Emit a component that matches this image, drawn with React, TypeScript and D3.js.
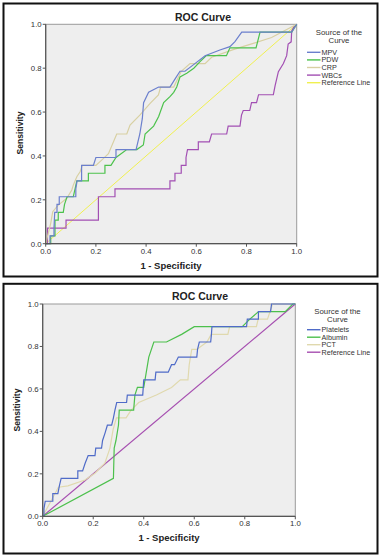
import React from "react";
import * as d3 from "d3";

// ---------- data (1 - specificity, sensitivity) ----------
const ticks = [0, 0.2, 0.4, 0.6, 0.8, 1.0];
const tickLabels = ["0.0", "0.2", "0.4", "0.6", "0.8", "1.0"];

const topSeries = ["MPV", "PDW", "CRP", "WBCs", "Reference Line"];
const bottomSeries = ["Platelets", "Albumin", "PCT", "Reference Line"];

const mpv: [number, number][] = [[0,0],[0.017,0],[0.017,0.036],[0.033,0.036],[0.033,0.071],[0.036,0.143],[0.045,0.143],[0.045,0.179],[0.054,0.179],[0.054,0.214],[0.12,0.214],[0.12,0.25],[0.125,0.286],[0.143,0.286],[0.143,0.357],[0.19,0.357],[0.2,0.393],[0.28,0.393],[0.28,0.429],[0.36,0.429],[0.375,0.5],[0.385,0.571],[0.39,0.643],[0.41,0.69],[0.45,0.714],[0.495,0.714],[0.515,0.75],[0.535,0.786],[0.555,0.786],[0.588,0.815],[0.635,0.857],[0.694,0.883],[0.734,0.898],[0.754,0.921],[0.781,0.964],[0.98,0.964],[1,1]];
const pdw: [number, number][] = [[0,0],[0.02,0],[0.02,0.036],[0.037,0.036],[0.037,0.107],[0.05,0.107],[0.05,0.143],[0.07,0.143],[0.075,0.179],[0.085,0.214],[0.11,0.214],[0.117,0.25],[0.124,0.286],[0.17,0.286],[0.17,0.321],[0.236,0.321],[0.236,0.357],[0.26,0.357],[0.28,0.393],[0.323,0.429],[0.363,0.429],[0.389,0.45],[0.396,0.5],[0.43,0.536],[0.45,0.58],[0.47,0.643],[0.495,0.67],[0.51,0.69],[0.522,0.714],[0.535,0.76],[0.562,0.777],[0.59,0.8],[0.615,0.83],[0.64,0.857],[0.72,0.857],[0.734,0.893],[0.838,0.893],[0.854,0.964],[0.98,0.964],[1,1]];
const crp: [number, number][] = [[0,0],[0.02,0.093],[0.028,0.146],[0.05,0.176],[0.084,0.207],[0.104,0.245],[0.11,0.267],[0.124,0.305],[0.137,0.328],[0.146,0.357],[0.2,0.357],[0.223,0.381],[0.25,0.41],[0.283,0.5],[0.323,0.5],[0.336,0.541],[0.376,0.587],[0.416,0.64],[0.449,0.678],[0.458,0.714],[0.51,0.714],[0.54,0.786],[0.575,0.821],[0.635,0.821],[0.661,0.85],[0.75,0.886],[0.83,0.914],[0.9,0.94],[1,1]];
const wbcs: [number, number][] = [[0,0],[0.007,0],[0.007,0.071],[0.081,0.071],[0.081,0.107],[0.21,0.107],[0.21,0.214],[0.276,0.214],[0.276,0.25],[0.495,0.25],[0.495,0.286],[0.515,0.286],[0.515,0.321],[0.54,0.321],[0.54,0.357],[0.559,0.357],[0.559,0.393],[0.565,0.429],[0.608,0.429],[0.608,0.464],[0.652,0.464],[0.661,0.5],[0.721,0.5],[0.727,0.536],[0.774,0.536],[0.78,0.586],[0.787,0.607],[0.813,0.607],[0.82,0.643],[0.84,0.643],[0.848,0.679],[0.907,0.679],[0.914,0.72],[0.927,0.784],[0.947,0.821],[0.96,0.857],[0.966,0.91],[0.978,0.92],[0.98,0.97],[0.99,0.99],[1,1]];
const refLine: [number, number][] = [[0,0],[1,1]];

const platelets: [number, number][] = [[0,0],[0.005,0],[0.005,0.036],[0.01,0.071],[0.04,0.071],[0.04,0.107],[0.06,0.107],[0.066,0.143],[0.073,0.179],[0.139,0.179],[0.139,0.214],[0.158,0.214],[0.168,0.25],[0.18,0.286],[0.207,0.286],[0.21,0.321],[0.233,0.321],[0.237,0.357],[0.247,0.393],[0.256,0.429],[0.273,0.429],[0.28,0.464],[0.286,0.5],[0.293,0.536],[0.332,0.536],[0.335,0.571],[0.396,0.571],[0.398,0.607],[0.4,0.643],[0.445,0.643],[0.448,0.679],[0.497,0.679],[0.51,0.714],[0.522,0.714],[0.537,0.75],[0.61,0.75],[0.613,0.786],[0.62,0.821],[0.665,0.821],[0.668,0.857],[0.67,0.893],[0.807,0.893],[0.81,0.929],[0.854,0.929],[0.854,0.964],[0.902,0.964],[0.906,1],[1,1]];
const albumin: [number, number][] = [[0,0],[0.28,0.179],[0.283,0.321],[0.29,0.357],[0.3,0.43],[0.303,0.5],[0.36,0.5],[0.365,0.571],[0.375,0.607],[0.4,0.607],[0.405,0.643],[0.42,0.75],[0.44,0.821],[0.49,0.821],[0.55,0.857],[0.6,0.893],[0.79,0.893],[0.82,0.929],[0.855,0.964],[0.96,0.964],[0.99,1],[1,1]];
const pct: [number, number][] = [[0,0],[0.042,0.092],[0.062,0.137],[0.1,0.143],[0.167,0.171],[0.207,0.203],[0.246,0.25],[0.266,0.32],[0.279,0.41],[0.292,0.464],[0.33,0.464],[0.35,0.5],[0.38,0.536],[0.45,0.571],[0.51,0.607],[0.545,0.643],[0.575,0.643],[0.58,0.714],[0.59,0.786],[0.61,0.786],[0.65,0.821],[0.667,0.857],[0.733,0.857],[0.74,0.893],[0.846,0.893],[0.853,0.929],[0.89,0.929],[0.9,0.964],[0.91,1],[1,1]];

const FONT = "'Liberation Sans', Arial, Helvetica, sans-serif";

type Panel = {
  box: [number, number, number, number];
  plot: { left: number; right: number; top: number; bottom: number };
  titleX: number; titleY: number;
  xTitleX: number; xTitleY: number;
  yTitleX: number; yTitleY: number;
  legendX: number; legendTitleY: number; legendY0: number; legendStep: number;
  names: string[];
  data: [number, number][][];
  colors: string[];
  widths: number[];
};

const panels: Panel[] = [
  {
    box: [3.5, 3.5, 374, 273],
    plot: { left: 45.7, right: 296.7, top: 24.3, bottom: 243.7 },
    titleX: 203, titleY: 20.5, xTitleX: 171, xTitleY: 269, yTitleX: 22.5, yTitleY: 133,
    legendX: 339, legendTitleY: 34.5, legendY0: 52.3, legendStep: 7.6,
    names: topSeries,
    data: [mpv, pdw, crp, wbcs, refLine],
    colors: ["#6b7fcd", "#4cc24c", "#d8d0a2", "#a24fb3", "#f0f050"],
    widths: [1.2, 1.2, 1.2, 1.2, 1],
  },
  {
    box: [3.5, 283.8, 374, 269.7],
    plot: { left: 42.7, right: 295.3, top: 304, bottom: 516.3 },
    titleX: 200, titleY: 299.5, xTitleX: 169, xTitleY: 541, yTitleX: 19.5, yTitleY: 410,
    legendX: 337.5, legendTitleY: 313.5, legendY0: 329.7, legendStep: 7.5,
    names: bottomSeries,
    data: [platelets, albumin, pct, refLine],
    colors: ["#4f6bc8", "#4cc04c", "#e0d9ae", "#a64fb0"],
    widths: [1.2, 1.2, 1.2, 1.2],
  },
];

function ChartPanel({ p }: { p: Panel }) {
  const x = d3.scaleLinear().domain([0, 1]).range([p.plot.left, p.plot.right]);
  const y = d3.scaleLinear().domain([0, 1]).range([p.plot.bottom, p.plot.top]);
  const line = d3.line<[number, number]>().x((d) => x(d[0])).y((d) => y(d[1]));
  const [bx, by, bw, bh] = p.box;
  return (
    <g>
      <rect x={bx} y={by} width={bw} height={bh} fill="#fff" stroke="#111" strokeWidth={2} />
      <rect x={p.plot.left} y={p.plot.top} width={p.plot.right - p.plot.left} height={p.plot.bottom - p.plot.top} fill="#eeeeee" stroke="#9a9a9a" strokeWidth={1} />
      <text x={p.titleX} y={p.titleY} textAnchor="middle" fontFamily={FONT} fontWeight="bold" fontSize={10.5} fill="#222">ROC Curve</text>
      {p.data.map((d, i) => i).reverse().map((i) => (
        <path key={i} d={line(p.data[i]) || ""} fill="none" stroke={p.colors[i]} strokeWidth={p.widths[i]} />
      ))}
      <line x1={p.plot.left} x2={p.plot.left} y1={p.plot.top} y2={p.plot.bottom} stroke="#555" strokeWidth={1.2} />
      <line x1={p.plot.left} x2={p.plot.right} y1={p.plot.bottom} y2={p.plot.bottom} stroke="#555" strokeWidth={1.2} />
      {ticks.map((t, i) => (
        <g key={"x" + i}>
          <line x1={x(t)} x2={x(t)} y1={p.plot.bottom} y2={p.plot.bottom + 3} stroke="#555" />
          <text x={x(t)} y={p.plot.bottom + 10} textAnchor="middle" fontFamily={FONT} fontSize={7.8} fill="#333">{tickLabels[i]}</text>
        </g>
      ))}
      {ticks.map((t, i) => (
        <g key={"y" + i}>
          <line x1={p.plot.left - 3} x2={p.plot.left} y1={y(t)} y2={y(t)} stroke="#555" />
          <text x={p.plot.left - 4} y={y(t) + 2.8} textAnchor="end" fontFamily={FONT} fontSize={7.8} fill="#333">{tickLabels[i]}</text>
        </g>
      ))}
      <text x={p.xTitleX} y={p.xTitleY} textAnchor="middle" fontFamily={FONT} fontWeight="bold" fontSize={9.5} fill="#222">1 - Specificity</text>
      <text transform={`translate(${p.yTitleX},${p.yTitleY}) rotate(-90)`} textAnchor="middle" fontFamily={FONT} fontWeight="bold" fontSize={8.6} fill="#222">Sensitivity</text>
      <text x={p.legendX} y={p.legendTitleY} textAnchor="middle" fontFamily={FONT} fontSize={7.8} fill="#333">Source of the</text>
      <text x={p.legendX} y={p.legendTitleY + 8.6} textAnchor="middle" fontFamily={FONT} fontSize={7.8} fill="#333">Curve</text>
      {p.names.map((n, i) => {
        const ly = p.legendY0 + i * p.legendStep;
        return (
          <g key={n}>
            <line x1={307} x2={320.5} y1={ly} y2={ly} stroke={p.colors[i]} strokeWidth={1.4} />
            <text x={321.5} y={ly + 2.5} fontFamily={FONT} fontSize={7.2} fill="#333">{n}</text>
          </g>
        );
      })}
    </g>
  );
}

export default function App() {
  return (
    <svg width={381} height={556} viewBox="0 0 381 556" style={{ position: "absolute", left: 0, top: 0, background: "#fff" }}>
      <rect x={0} y={0} width={381} height={556} fill="#fff" />
      {panels.map((p, i) => (
        <ChartPanel key={i} p={p} />
      ))}
    </svg>
  );
}
